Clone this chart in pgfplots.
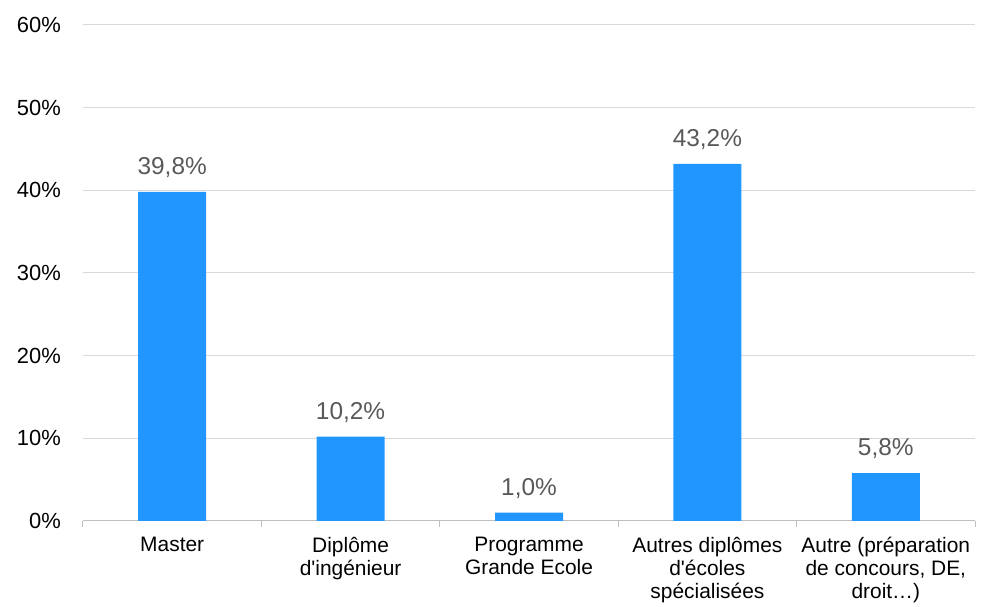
\documentclass[border=0pt]{standalone}
\usepackage{fontspec}
\setmainfont{Liberation Sans}
\usepackage{pgfplots}
\pgfplotsset{compat=1.18}
\definecolor{barblue}{HTML}{2196FF}
\definecolor{gridgray}{HTML}{D9D9D9}
\definecolor{axisgray}{HTML}{BFBFBF}
\definecolor{valgray}{HTML}{595959}
\begin{document}
\begin{tikzpicture}
	\begin{axis}[
			scale only axis,
			width=892bp, height=496bp,
			ybar, bar width=68bp,
			xmin=-0.5, xmax=4.5,
			ymin=0, ymax=60,
			ytick={0,10,...,60},
			yticklabel={\pgfmathprintnumber{\tick}\%},
			/pgf/number format/assume math mode=true,
			yticklabel style={font=\fontsize{22}{26}\selectfont, anchor=east, inner sep=0pt, xshift=-22bp},
			ymajorgrids, grid style={gridgray, line width=1bp},
			axis lines*=left,
			y axis line style={draw=none},
			x axis line style={axisgray, line width=1bp},
			ytick style={draw=none},
			xtick={0,...,4},
			xticklabels={Master, {Diplôme\\d\textquotesingle ingénieur}, {Programme\\Grande Ecole}, {Autres diplômes\\d\textquotesingle écoles\\spécialisées}, {Autre (préparation\\de concours, DE,\\droit…)}},
			xticklabel style={font=\fontsize{21}{23}\selectfont, align=center, anchor=north, inner sep=0pt, yshift=-16bp},
			xtick style={draw=axisgray, line width=1bp},
			major tick length=0pt,
			tick align=outside,
			extra x ticks={-0.5,0.5,1.5,2.5,3.5,4.5},
			extra x tick labels={},
			extra x tick style={major tick length=6bp, grid=none},
			nodes near coords={\pgfmathprintnumber[fixed,fixed zerofill,precision=1,use comma,assume math mode=true]{\pgfplotspointmeta}\%},
			nodes near coords style={font=\fontsize{24.5}{28}\selectfont, text=valgray, anchor=south, inner sep=0pt, text depth=0pt, yshift=17bp},
			clip=false,
		]
		\addplot[fill=barblue, draw=none] coordinates {(0,39.8) (1,10.2) (2,1.0) (3,43.2) (4,5.8)};
		\coordinate (bl) at (rel axis cs:0,0);
		\coordinate (tr) at (rel axis cs:1,1);
	\end{axis}
	\pgfresetboundingbox
	\path ([shift={(-83bp,-86bp)}]bl) rectangle ([shift={(7bp,25bp)}]tr);
\end{tikzpicture}
\end{document}
